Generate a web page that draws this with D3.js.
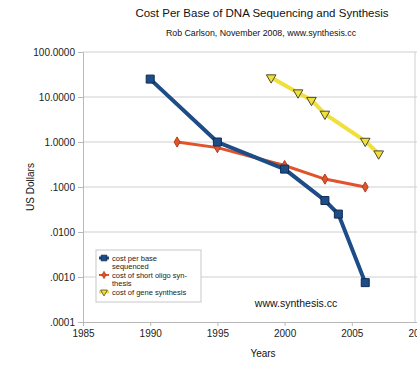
<!DOCTYPE html>
<html lang="en">
<head>
<meta charset="utf-8">
<title>Cost Per Base of DNA Sequencing and Synthesis</title>
<style>
  body { margin: 0; background: #fff; }
  svg { font-family: "Liberation Sans", Arial, sans-serif; display: block; }
  .grid line { stroke: #cfcfcf; stroke-width: 1; }
  .axis path, .axis line { stroke: #b8b8b8; }
  .axis text { fill: #222; font-size: 10px; }
</style>
</head>
<body>
<div id="chart"></div>
<script src="https://cdn.jsdelivr.net/npm/d3@7"></script>
<script>
// data
var seqYears = [1990, 1995, 2000, 2003, 2004, 2006];
var seqCost  = [25, 1.0, 0.25, 0.05, 0.025, 0.00075];

var oligoYears = [1992, 1995, 2000, 2003, 2006];
var oligoCost  = [1.0, 0.75, 0.3, 0.15, 0.1];

var geneYears = [1999, 2001, 2002, 2003, 2006, 2007];
var geneCost  = [27, 12.5, 8.5, 4.2, 1.05, 0.55];

var yTicks = [100, 10, 1, 0.1, 0.01, 0.001, 0.0001];
var yTickLabels = ["100.0000", "10.0000", "1.0000", ".1000", ".0100", ".0010", ".0001"];
var xTicks = [1985, 1990, 1995, 2000, 2005, 2010];

var legendLabels = [["cost per base", "sequenced"], ["cost of short oligo syn-", "thesis"], ["cost of gene synthesis"]];

var width = 417, height = 365;
var margin = {left: 83, right: -2, top: 52, bottom: 43};

var svg = d3.select("#chart").append("svg")
    .attr("width", width)
    .attr("height", height);

var x = d3.scaleLinear().domain([1985, 2010]).range([margin.left, width - margin.right]);
var y = d3.scaleLog().domain([0.0001, 100]).range([height - margin.bottom, margin.top]);

// gridlines
svg.append("g").attr("class", "grid")
  .selectAll("line")
  .data(yTicks.slice(0, -1))
  .enter().append("line")
    .attr("x1", margin.left).attr("x2", width - margin.right)
    .attr("y1", function(d) { return y(d); })
    .attr("y2", function(d) { return y(d); });

// right border
svg.append("line")
    .attr("x1", width - 2).attr("x2", width - 2)
    .attr("y1", margin.top).attr("y2", height - margin.bottom)
    .attr("stroke", "#cfcfcf");

svg.append("g").attr("class", "axis")
    .attr("transform", "translate(" + margin.left + ",0)")
    .call(d3.axisLeft(y).tickValues(yTicks)
      .tickFormat(function(d, i) { return yTickLabels[i]; })
      .tickSizeOuter(0).tickSize(5).tickPadding(3));

svg.append("g").attr("class", "axis")
    .attr("transform", "translate(0," + (height - margin.bottom) + ")")
    .call(d3.axisBottom(x).tickValues(xTicks).tickFormat(d3.format("d"))
      .tickSizeOuter(0).tickSize(4).tickPadding(4));

svg.selectAll(".axis path.domain").attr("stroke", "#b8b8b8");

// titles
svg.append("text").attr("x", 262).attr("y", 17).attr("text-anchor", "middle")
    .attr("font-size", 11.5).attr("fill", "#111")
    .text("Cost Per Base of DNA Sequencing and Synthesis");
svg.append("text").attr("x", 261).attr("y", 36).attr("text-anchor", "middle")
    .attr("font-size", 8.8).attr("fill", "#111")
    .text("Rob Carlson, November 2008, www.synthesis.cc");
svg.append("text").attr("x", 263).attr("y", 357).attr("text-anchor", "middle")
    .attr("font-size", 10).attr("fill", "#111").text("Years");
svg.append("text")
    .attr("transform", "translate(34,187) rotate(-90)")
    .attr("text-anchor", "middle").attr("font-size", 10).attr("fill", "#111")
    .text("US Dollars");
svg.append("text").attr("x", 296).attr("y", 307).attr("text-anchor", "middle")
    .attr("font-size", 10.5).attr("fill", "#111").text("www.synthesis.cc");

var line = d3.line().x(function(d) { return x(d[0]); }).y(function(d) { return y(d[1]); });

var series = [
  {years: oligoYears, vals: oligoCost, color: "#e0532b", width: 3, marker: "diamond", fill: "#e0532b", stroke: "#b33c1c", size: 30},
  {years: seqYears, vals: seqCost, color: "#1d4c86", width: 4, marker: "square", fill: "#1d4c86", stroke: "#0e2c55", size: 64},
  {years: geneYears, vals: geneCost, color: "#f1df3b", width: 4, marker: "tri", fill: "#f1df3b", stroke: "#4b4a30", size: 40}
];

function symbolFor(m) {
  if (m === "square") return d3.symbolSquare;
  if (m === "diamond") return d3.symbolDiamond;
  return d3.symbolTriangle;
}

series.forEach(function(s) {
  var pts = s.years.map(function(yr, i) { return [yr, s.vals[i]]; });
  svg.append("path").datum(pts)
      .attr("fill", "none")
      .attr("stroke", s.color)
      .attr("stroke-width", s.width)
      .attr("d", line);
  svg.append("g").selectAll("path")
    .data(pts)
    .enter().append("path")
      .attr("d", d3.symbol().type(symbolFor(s.marker)).size(s.size))
      .attr("transform", function(d) {
        return "translate(" + x(d[0]) + "," + y(d[1]) + ")" + (s.marker === "tri" ? " rotate(180)" : "");
      })
      .attr("fill", s.fill)
      .attr("stroke", s.stroke)
      .attr("stroke-width", 1);
});

// legend
var lg = svg.append("g").attr("transform", "translate(96,250)");
lg.append("rect").attr("width", 105).attr("height", 52)
    .attr("fill", "#fff").attr("stroke", "#c8c8c8");
var legendSeries = [series[1], series[0], series[2]];
var rowY = [8, 25, 42];
legendSeries.forEach(function(s, i) {
  var g = lg.append("g").attr("transform", "translate(0," + rowY[i] + ")");
  g.append("line").attr("x1", 3).attr("x2", 13).attr("y1", 0).attr("y2", 0)
      .attr("stroke", s.color).attr("stroke-width", s.width - 1);
  g.append("path")
      .attr("d", d3.symbol().type(symbolFor(s.marker)).size(s.size * 0.5))
      .attr("transform", "translate(8,0)" + (s.marker === "tri" ? " rotate(180)" : ""))
      .attr("fill", s.fill).attr("stroke", s.stroke).attr("stroke-width", 0.8);
  legendLabels[i].forEach(function(t, j) {
    g.append("text").attr("x", 16).attr("y", 3 + j * 8)
        .attr("font-size", 7.5).attr("fill", "#222").text(t);
  });
});
</script>
</body>
</html>
